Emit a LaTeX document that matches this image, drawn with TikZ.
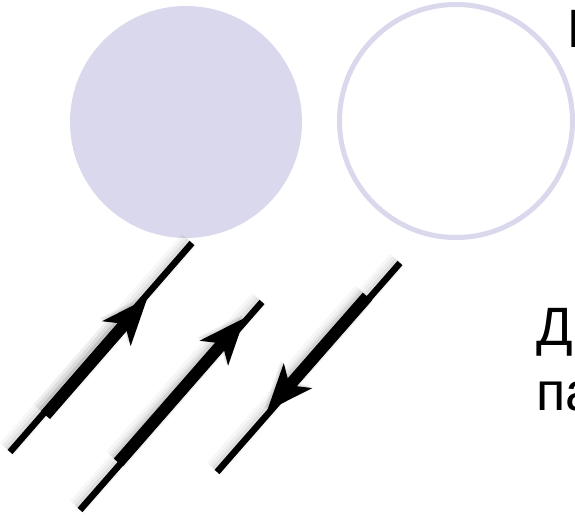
\documentclass[tikz,border=0pt]{standalone}
\usepackage{fontspec}
\setmainfont{Liberation Sans}
\usepackage{xcolor}
\usepackage{tikz}
\usetikzlibrary{arrows.meta}

\definecolor{lav}{RGB}{217,216,236}

\begin{document}
\begin{tikzpicture}[
  x=1pt, y=-1pt,
  lbl/.style={anchor=base west, inner sep=0pt,
              font=\fontsize{54}{65}\selectfont},
  haze/.style={preaction={draw=black, opacity=0.03, line width=#1+12pt,
                 transform canvas={shift={(-3pt,3pt)}}},
               preaction={draw=black, opacity=0.04, line width=#1+7pt,
                 transform canvas={shift={(-2.5pt,2.5pt)}}},
               preaction={draw=black, opacity=0.06, line width=#1+3pt,
                 transform canvas={shift={(-1.5pt,1.5pt)}}}},
  wire/.style={haze=6.5pt, draw=black, line width=6.5pt},
  flow/.style={haze=12pt, draw=black, line width=12pt,
               -{Stealth[length=47pt, width=38pt, inset=13pt, line width=0pt]}}
]
\useasboundingbox (0,0) rectangle (575,518);

% particle and hole
\node[circle, fill=lav, minimum size=232pt, inner sep=0pt] (full) at (186,122) {};
\node[circle, draw=lav, line width=5pt, minimum size=233pt, inner sep=0pt]
      (empty) at (456,121) {};

% end points of the three lines
\coordinate (a1) at (10,452);  \coordinate (b1) at (192,243);
\coordinate (a2) at (80,510);  \coordinate (b2) at (262,302);
\coordinate (a3) at (217,472); \coordinate (b3) at (400,263);

% thick parts carrying the arrow heads
\coordinate (p1) at (45.4,415.1);  \coordinate (q1) at (147.2,298.3);
\coordinate (p2) at (118.3,462.5); \coordinate (q2) at (244.7,317.9);
\coordinate (p3) at (367.3,296.6); \coordinate (q3) at (267.1,410.9);

\draw[wire] (a1) -- (b1);
\draw[wire] (a2) -- (b2);
\draw[wire] (a3) -- (b3);

\draw[flow] (p1) -- (q1);
\draw[flow] (p2) -- (q2);
\draw[flow] (p3) -- (q3);

\node[lbl] (top) at (567,48)    {П};
\node[lbl] (mid) at (536.5,345) {Д};
\node[lbl] (low) at (536.5,410) {па};

\end{tikzpicture}
\end{document}
